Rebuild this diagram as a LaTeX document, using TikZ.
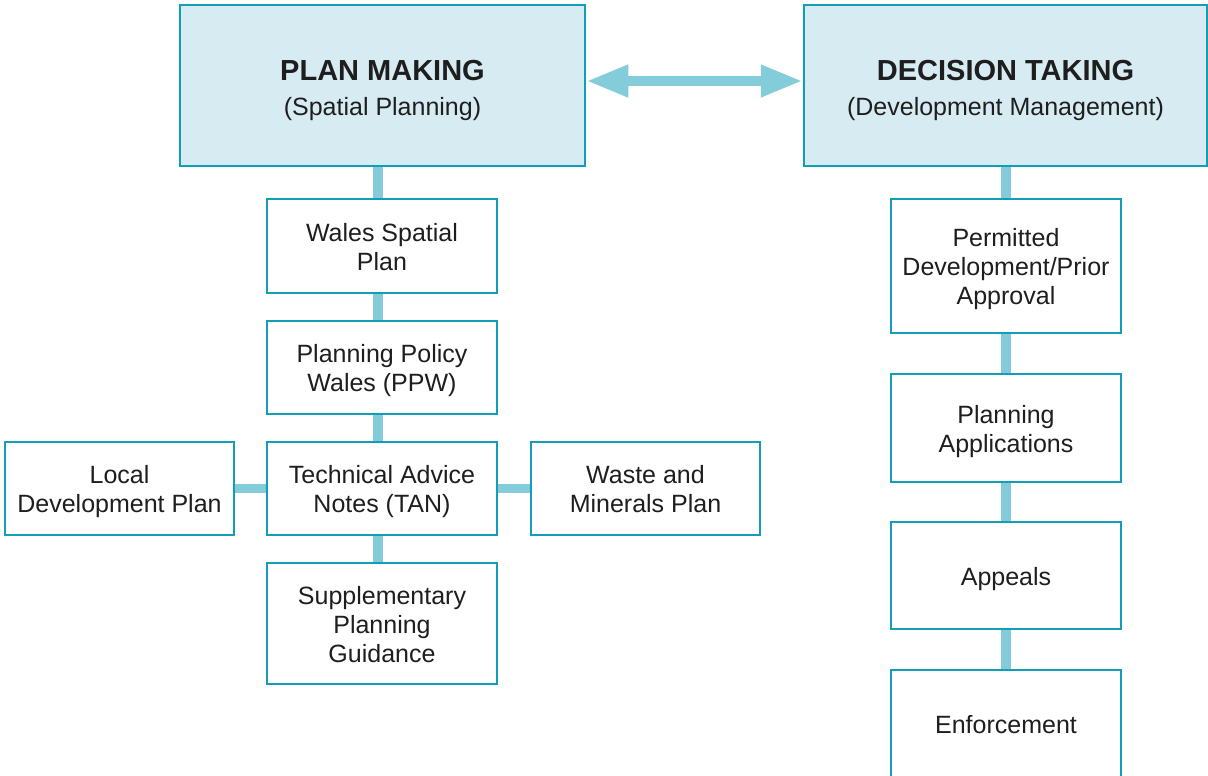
\documentclass[tikz,border=0pt]{standalone}
\usepackage{fontspec}
\setmainfont{Liberation Sans}
\usetikzlibrary{arrows.meta}
\definecolor{boxline}{RGB}{18,158,184}
\definecolor{boxfill}{RGB}{214,236,242}
\definecolor{conncol}{RGB}{133,204,219}
\definecolor{txt}{RGB}{30,30,30}
\newcommand\mytop{\rule{0pt}{25pt}}
\newcommand\myhtop{\rule{0pt}{30pt}}
\newcommand\mybot{\rule[-6pt]{0pt}{6pt}}
\begin{document}
\begin{tikzpicture}[x=1pt,y=-1pt,
  box/.style={draw=boxline, line width=2.5pt, fill=white, inner sep=0pt,
    align=center, text=txt, font=\fontsize{25}{29}\selectfont},
  headbox/.style={box, fill=boxfill, font=\fontsize{25}{35}\selectfont},
  conn/.style={draw=conncol, line width=9.5pt},
  biarrow/.style={draw=conncol, line width=10pt,
    {Triangle[length=42pt,width=30pt]}-{Triangle[length=42pt,width=30pt]}}]
\useasboundingbox (0,0) rectangle (1208,776);
\clip (0,0) rectangle (1208,776);
% header boxes
\node[headbox, minimum width=405pt, minimum height=161pt] (pm) at (382.5,85.5)
  {\myhtop{\bfseries\fontsize{29}{35}\selectfont PLAN MAKING}\\(Spatial Planning)\mybot};
\node[headbox, minimum width=403pt, minimum height=161pt] (dt) at (1005.5,85.5)
  {\myhtop{\bfseries\fontsize{29}{35}\selectfont DECISION TAKING}\\(Development Management)\mybot};
% left column
\node[box, minimum width=230pt, minimum height=94pt] (wsp) at (382,246) {\mytop Wales Spatial\\Plan\mybot};
\node[box, minimum width=230pt, minimum height=93pt] (ppw) at (382,367.5) {\mytop Planning Policy\\Wales (PPW)\mybot};
\node[box, minimum width=230pt, minimum height=93pt] (tan) at (382,488.5) {\mytop Technical Advice\\Notes (TAN)\mybot};
\node[box, minimum width=230pt, minimum height=121pt] (spg) at (382,623.5) {\mytop Supplementary\\Planning\\Guidance\mybot};
\node[box, minimum width=229pt, minimum height=93pt] (ldp) at (119.5,488.5) {\mytop Local\\Development Plan\mybot};
\node[box, minimum width=229pt, minimum height=93pt] (wmp) at (645.5,488.5) {\mytop Waste and\\Minerals Plan\mybot};
% right column
\node[box, minimum width=230pt, minimum height=134pt] (pd) at (1006,266) {\mytop Permitted\\Development/Prior\\Approval\mybot};
\node[box, minimum width=230pt, minimum height=108pt] (pa) at (1006,428) {\mytop Planning\\Applications\mybot};
\node[box, minimum width=230pt, minimum height=107pt] (ap) at (1006,575.5) {\mytop Appeals\mybot};
\node[box, minimum width=230pt, minimum height=108pt] (enf) at (1006,724) {\mytop Enforcement\mybot};
% connectors
\draw[conn] ([xshift=-4.5pt]pm.south) -- ([xshift=-4pt]wsp.north);
\draw[conn] ([xshift=-4pt]wsp.south) -- ([xshift=-4pt]ppw.north);
\draw[conn] ([xshift=-4pt]ppw.south) -- ([xshift=-4pt]tan.north);
\draw[conn] ([xshift=-4pt]tan.south) -- ([xshift=-4pt]spg.north);
\draw[conn] (ldp.east) -- (tan.west);
\draw[conn] (tan.east) -- (wmp.west);
\draw[conn] ([xshift=0.5pt]dt.south) -- (pd.north);
\draw[conn] (pd.south) -- (pa.north);
\draw[conn] (pa.south) -- (ap.north);
\draw[conn] (ap.south) -- (enf.north);
\draw[biarrow] ([yshift=4.5pt]pm.east) -- ([yshift=4.5pt]dt.west);
\end{tikzpicture}
\end{document}
